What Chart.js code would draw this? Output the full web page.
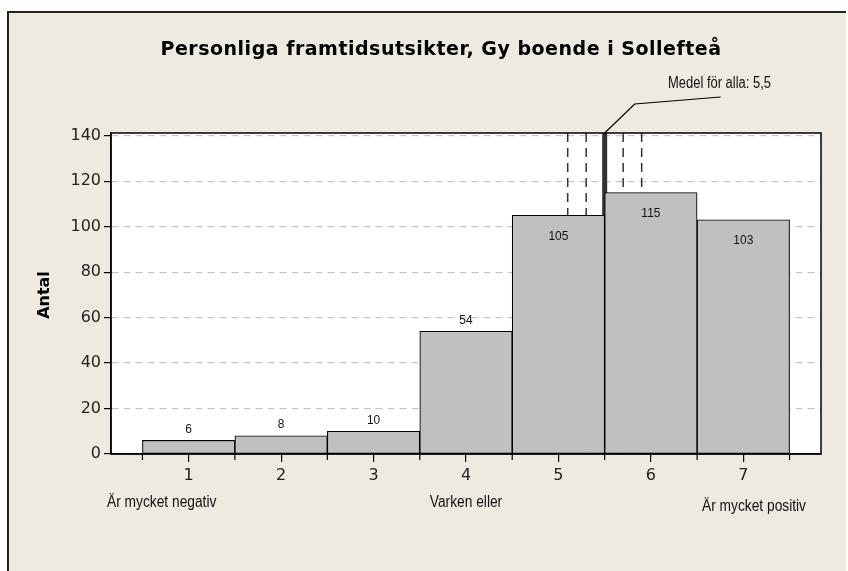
<!DOCTYPE html>
<html>
<head>
<meta charset="utf-8">
<script src="https://cdn.jsdelivr.net/npm/chart.js@4.4.1/dist/chart.umd.min.js"></script>
<style>
  body { margin: 0; background: #fff; }
</style>
</head>
<body>
<canvas id="myChart" width="848" height="571"></canvas>
<script>
const categories = [1, 2, 3, 4, 5, 6, 7]
const counts = [6, 8, 10, 54, 105, 115, 103]
const binEdges = [0.5, 1.5, 2.5, 3.5, 4.5, 5.5, 6.5, 7.5]
const scaleLabels = ['Är mycket negativ', 'Varken eller', 'Är mycket positiv']
const scaleLabelAt = [1, 4, 7]
const meanValue = 5.5
const meanBands = [5.1, 5.3, 5.7, 5.9]
const meanText = 'Medel för alla: 5,5'
const titleText = 'Personliga framtidsutsikter, Gy boende i Sollefteå'
const yTitle = 'Antal'

const canvas = document.getElementById('myChart')

// draws text squeezed horizontally, like the narrow font of the original
function narrowText(ctx, text, x, y, align, squeeze) {
  ctx.save()
  ctx.translate(x, y)
  ctx.scale(squeeze, 1)
  ctx.textAlign = align
  ctx.fillText(text, 0, 0)
  ctx.restore()
}

const background = {
  id: 'background',
  beforeDraw(chart) {
    const { ctx, chartArea: { left, top, right, bottom } } = chart
    ctx.save()
    ctx.fillStyle = '#ffffff'
    ctx.fillRect(0, 0, chart.width, chart.height)
    ctx.fillStyle = '#eeeae0'
    ctx.fillRect(8, 12, 838, chart.height - 12)
    ctx.strokeStyle = '#222'
    ctx.lineWidth = 2
    ctx.beginPath()
    ctx.moveTo(8, chart.height)
    ctx.lineTo(8, 12)
    ctx.lineTo(846, 12)
    ctx.stroke()
    ctx.fillStyle = '#ffffff'
    ctx.fillRect(left, top, right - left, bottom - top)
    ctx.restore()
  },
}

const meanLines = {
  id: 'meanLines',
  beforeDatasetsDraw(chart) {
    const { ctx, chartArea: { top, bottom }, scales: { x } } = chart
    ctx.save()
    ctx.strokeStyle = '#333'
    ctx.lineWidth = 1.5
    ctx.setLineDash([9, 6])
    meanBands.forEach((v) => {
      const px = x.getPixelForValue(v)
      ctx.beginPath()
      ctx.moveTo(px, top)
      ctx.lineTo(px, bottom)
      ctx.stroke()
    })
    ctx.setLineDash([])
    ctx.lineWidth = 5
    const mx = x.getPixelForValue(meanValue)
    ctx.beginPath()
    ctx.moveTo(mx, top)
    ctx.lineTo(mx, bottom)
    ctx.stroke()
    ctx.restore()
  },
}

const overlay = {
  id: 'overlay',
  afterDatasetsDraw(chart) {
    const { ctx, chartArea: { left, top, right, bottom }, scales: { x, y } } = chart
    ctx.save()

    // bar values
    ctx.fillStyle = '#111'
    ctx.font = '13px "Liberation Sans", Arial, sans-serif'
    ctx.textBaseline = 'middle'
    counts.forEach((v, i) => {
      const px = x.getPixelForValue(categories[i])
      const py = y.getPixelForValue(v)
      narrowText(ctx, String(v), px, v > 100 ? py + 21 : py - 11, 'center', 0.92)
    })

    // plot frame
    ctx.strokeStyle = '#000'
    ctx.lineWidth = 1.5
    ctx.strokeRect(left, top, right - left, bottom - top)

    // tick marks at the bin edges
    ctx.lineWidth = 1.2
    binEdges.forEach((v) => {
      const px = x.getPixelForValue(v)
      ctx.beginPath()
      ctx.moveTo(px, bottom)
      ctx.lineTo(px, bottom + 6)
      ctx.stroke()
    })

    // mean annotation
    const mx = x.getPixelForValue(meanValue)
    ctx.beginPath()
    ctx.moveTo(mx, top)
    ctx.lineTo(mx + 30, top - 29)
    ctx.lineTo(mx + 116, top - 36)
    ctx.stroke()
    ctx.font = '16px "Liberation Sans", Arial, sans-serif'
    ctx.fillStyle = '#111'
    narrowText(ctx, meanText, 668, 84, 'left', 0.81)

    // title
    ctx.font = 'bold 19px "DejaVu Sans", Verdana, sans-serif'
    ctx.letterSpacing = '0.5px'
    ctx.textAlign = 'center'
    ctx.fillStyle = '#000'
    ctx.fillText(titleText, 441, 50)
    ctx.letterSpacing = '0px'

    // y axis title
    ctx.save()
    ctx.translate(45, 295)
    ctx.rotate(-Math.PI / 2)
    ctx.font = 'bold 16px "DejaVu Sans", Verdana, sans-serif'
    ctx.fillText(yTitle, 0, 0)
    ctx.restore()

    // scale end labels
    ctx.fillStyle = '#111'
    ctx.font = '16px "Liberation Sans", Arial, sans-serif'
    narrowText(ctx, scaleLabels[0], 107, 503, 'left', 0.86)
    narrowText(ctx, scaleLabels[1], x.getPixelForValue(scaleLabelAt[1]), 503, 'center', 0.86)
    narrowText(ctx, scaleLabels[2], 806, 507, 'right', 0.86)

    ctx.restore()
  },
}

const data = {
  datasets: [
    {
      label: yTitle,
      data: categories.map((c, i) => ({ x: c, y: counts[i] })),
      backgroundColor: '#c0c0c0',
      borderColor: '#000',
      borderWidth: 1.1,
      borderSkipped: false,
      barPercentage: 1,
      categoryPercentage: 1,
    },
  ],
}

const config = {
  type: 'bar',
  data: data,
  options: {
    responsive: false,
    animation: false,
    devicePixelRatio: 1,
    layout: { padding: { left: 0, top: 133, right: 27, bottom: 0 } },
    plugins: {
      legend: { display: false },
      tooltip: { enabled: false },
    },
    scales: {
      x: {
        type: 'linear',
        offset: false,
        min: 0.16,
        max: 7.84,
        afterBuildTicks(scale) {
          scale.ticks = categories.map((v) => ({ value: v }))
        },
        afterFit(scale) {
          scale.height = 117
        },
        ticks: {
          autoSkip: false,
          maxRotation: 0,
          padding: 4,
          color: '#222',
          font: { family: '"DejaVu Sans", Verdana, sans-serif', size: 16 },
        },
        grid: {
          drawOnChartArea: false,
          offset: false,
          color: '#000',
          tickColor: '#000',
          tickLength: 8,
          lineWidth: 1.2,
        },
        border: { display: true, color: '#000', width: 1.5 },
      },
      y: {
        min: 0,
        max: 141.2,
        afterFit(scale) {
          scale.width = 111
        },
        ticks: {
          stepSize: 20,
          includeBounds: false,
          padding: 3,
          color: '#222',
          font: { family: '"DejaVu Sans", Verdana, sans-serif', size: 16 },
        },
        grid: {
          color: '#c8c8c8',
          tickColor: '#000',
          tickLength: 7,
          lineWidth: 1.2,
        },
        border: { display: true, color: '#000', width: 1.5, dash: [7, 5] },
      },
    },
  },
  plugins: [background, meanLines, overlay],
}

const myChart = new Chart(canvas, config)
</script>
</body>
</html>
